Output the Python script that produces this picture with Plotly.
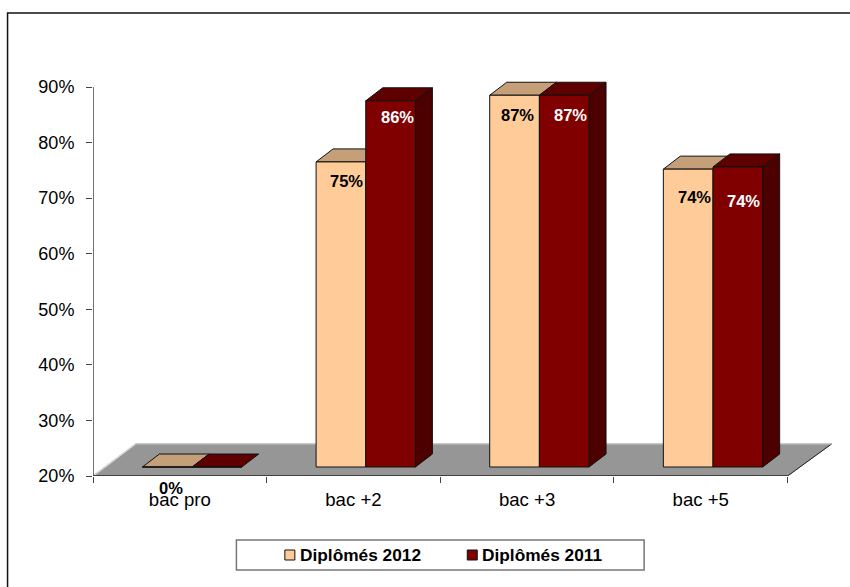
import plotly.graph_objects as go

# ---- data ----
categories = ["bac pro", "bac +2", "bac +3", "bac +5"]
series_names = ["Diplômés 2012", "Diplômés 2011"]
values_2012 = [0, 74.9, 86.9, 73.6]
values_2011 = [0, 85.9, 86.9, 74.0]
y_ticks = [20, 30, 40, 50, 60, 70, 80, 90]
labels_2012 = ["0%", "75%", "87%", "74%"]
labels_2011 = ["", "86%", "87%", "74%"]

# ---- geometry (pixels of the picture, converted to axis units) ----
W, H = 850, 587
LEFT, RIGHT, BOTTOM, TOP = 92.5, 848, 476, 75
PX_X = 173.75   # px per category
PX_Y = 5.557    # px per percentage point
Y_MIN = 20
X_MIN = -0.5
X_MAX = X_MIN + (RIGHT - LEFT) / PX_X
Y_MAX = Y_MIN + (BOTTOM - TOP) / PX_Y
BAR_W = 49.7 / PX_X
SHIFT_X = 12.3 / PX_X
BASE = Y_MIN + 9 / PX_Y
DX, DY = 17 / PX_X, 13 / PX_Y
FLOOR_DX_L, FLOOR_DX_R, FLOOR_DY = 42.5 / PX_X, 44 / PX_X, 32 / PX_Y

FRONT = {0: "#FFCC99", 1: "#800000"}
TOPC = {0: "#C49F77", 1: "#5E0000"}
SIDE = {0: "#A88560", 1: "#4C0000"}
EDGE = "#111111"
TEXT = "#000000"

# label nudges: (px right of the bar centre, px below the bar top)
nudge_2012 = [(4, 0), (6, 19), (3, 20), (6, 28)]
nudge_2011 = [(0, 0), (7, 16), (6, 20), (6, 34)]

fig = go.Figure()


def px(xp):
    return (xp - LEFT) / (RIGHT - LEFT)


def py(yp):
    return (BOTTOM - yp) / (BOTTOM - TOP)


def poly(xs, ys, fill, line=EDGE, width=1):
    fig.add_trace(go.Scatter(x=xs + xs[:1], y=ys + ys[:1], mode="lines", fill="toself",
                             fillcolor=fill, line=dict(color=line, width=width),
                             hoverinfo="skip", showlegend=False))


def edge(xs, ys, color, width=1, clip=True):
    fig.add_trace(go.Scatter(x=xs, y=ys, mode="lines", cliponaxis=clip,
                             line=dict(color=color, width=width),
                             hoverinfo="skip", showlegend=False))


# floor
n = len(categories)
x_end = X_MIN + n
poly([X_MIN, x_end, x_end + FLOOR_DX_R, X_MIN + FLOOR_DX_L],
     [Y_MIN, Y_MIN, Y_MIN + FLOOR_DY, Y_MIN + FLOOR_DY], "#969696", line="#969696")
edge([x_end, x_end + FLOOR_DX_R], [Y_MIN, Y_MIN + FLOOR_DY], "#222222")
edge([X_MIN, X_MIN + FLOOR_DX_L], [Y_MIN, Y_MIN + FLOOR_DY], "#D8D8D8", 1.5)
edge([X_MIN + FLOOR_DX_L, x_end + FLOOR_DX_R], [Y_MIN + FLOOR_DY, Y_MIN + FLOOR_DY], "#C4C4C4")

offsets = [SHIFT_X - BAR_W / 2, SHIFT_X + BAR_W / 2]
all_values = [values_2012, values_2011]

# top and side faces (behind the fronts)
for c in range(n):
    for s in (0, 1):
        v = max(all_values[s][c], Y_MIN)
        top = v + BASE - Y_MIN
        x0 = c + offsets[s] - BAR_W / 2
        x1 = x0 + BAR_W
        poly([x0, x1, x1 + DX, x0 + DX], [top, top, top + DY, top + DY], TOPC[s])
    v = max(all_values[1][c], Y_MIN)
    top = v + BASE - Y_MIN
    x1 = c + offsets[1] + BAR_W / 2
    if v > Y_MIN:
        poly([x1, x1 + DX, x1 + DX, x1], [BASE, BASE + DY, top + DY, top], SIDE[1])

# axis lines
edge([X_MIN, x_end], [Y_MIN, Y_MIN], "#222222", 1.5, False)
edge([X_MIN, X_MIN], [Y_MIN, y_ticks[-1]], "#444444", 1.5, False)

# bar fronts, on an overlaid pair of axes so that they cover the faces above
for s, vals in enumerate(all_values):
    fig.add_trace(go.Bar(x=[c + offsets[s] for c in range(n)],
                         y=[max(v, Y_MIN) - Y_MIN for v in vals],
                         base=[BASE] * n, width=[BAR_W] * n, name=series_names[s],
                         marker=dict(color=FRONT[s], line=dict(color=EDGE, width=1)),
                         xaxis="x2", yaxis="y2", showlegend=False))

annotations = []

# data labels
for s, (vals, labs, nud, col) in enumerate(((values_2012, labels_2012, nudge_2012, "#000000"),
                                            (values_2011, labels_2011, nudge_2011, "#FFFFFF"))):
    for c in range(n):
        if not labs[c]:
            continue
        lx = c + offsets[s] + nud[c][0] / PX_X
        if vals[c] <= Y_MIN:
            # a value below the axis minimum: its label sits under the axis line
            ly, yref = py(488.5), "paper"
        else:
            ly, yref = vals[c] + BASE - Y_MIN - nud[c][1] / PX_Y, "y"
        annotations.append(dict(xref="x", yref=yref, x=lx, y=ly, showarrow=False,
                                xanchor="center", yanchor="middle", text="<b>%s</b>" % labs[c],
                                font=dict(family="Liberation Sans", size=16.5, color=col)))

shapes = [dict(type="rect", xref="paper", yref="paper", layer="below",
               x0=px(7), x1=px(1000), y0=py(800), y1=py(13),
               line=dict(color="#111111", width=1.5), fillcolor="white")]

# legend box
shapes.append(dict(type="rect", xref="paper", yref="paper",
                   x0=px(236), x1=px(644), y0=py(570), y1=py(540),
                   line=dict(color="#777777", width=1.5), fillcolor="white"))
for s, (sw, tx) in enumerate(((284.5, 297.5), (467, 479.5))):
    shapes.append(dict(type="rect", xref="paper", yref="paper",
                       x0=px(sw), x1=px(sw + 10), y0=py(560), y1=py(550),
                       line=dict(color=EDGE, width=1), fillcolor=FRONT[s]))
    annotations.append(dict(xref="paper", yref="paper", x=px(tx), y=py(554.5), xanchor="left",
                            yanchor="middle", showarrow=False, text="<b>%s</b>" % series_names[s],
                            font=dict(family="Liberation Sans", size=17.3, color=TEXT)))

fig.update_layout(
    width=W, height=H, autosize=False, showlegend=False,
    margin=dict(l=LEFT, r=W - RIGHT, t=TOP, b=H - BOTTOM, pad=0),
    paper_bgcolor="white", plot_bgcolor="rgba(0,0,0,0)", barmode="overlay",
    shapes=shapes, annotations=annotations,
    xaxis=dict(range=[X_MIN, X_MAX], tickmode="array", tickvals=list(range(n)), ticktext=categories,
               ticks="", showgrid=False, zeroline=False, showline=False, ticklabelstandoff=10,
               tickfont=dict(family="Liberation Sans", size=18.6, color=TEXT),
               minor=dict(tickmode="array", tickvals=[X_MIN + i for i in range(n + 1)],
                          ticks="outside", ticklen=6, tickwidth=1, tickcolor="#444444", showgrid=False)),
    yaxis=dict(range=[Y_MIN, Y_MAX], tickmode="array", tickvals=y_ticks,
               ticktext=["%d%%" % t for t in y_ticks], ticks="outside", ticklen=6, tickwidth=1,
               tickcolor="#444444", showgrid=False, zeroline=False, showline=False, ticklabelstandoff=8,
               tickfont=dict(family="Liberation Sans", size=18, color=TEXT)),
    xaxis2=dict(range=[X_MIN, X_MAX], overlaying="x", visible=False),
    yaxis2=dict(range=[Y_MIN, Y_MAX], overlaying="y", visible=False),
)

fig.write_html("out.html", config={"displayModeBar": False},
               post_script="document.body.style.margin='0';document.documentElement.style.overflow='hidden';")
